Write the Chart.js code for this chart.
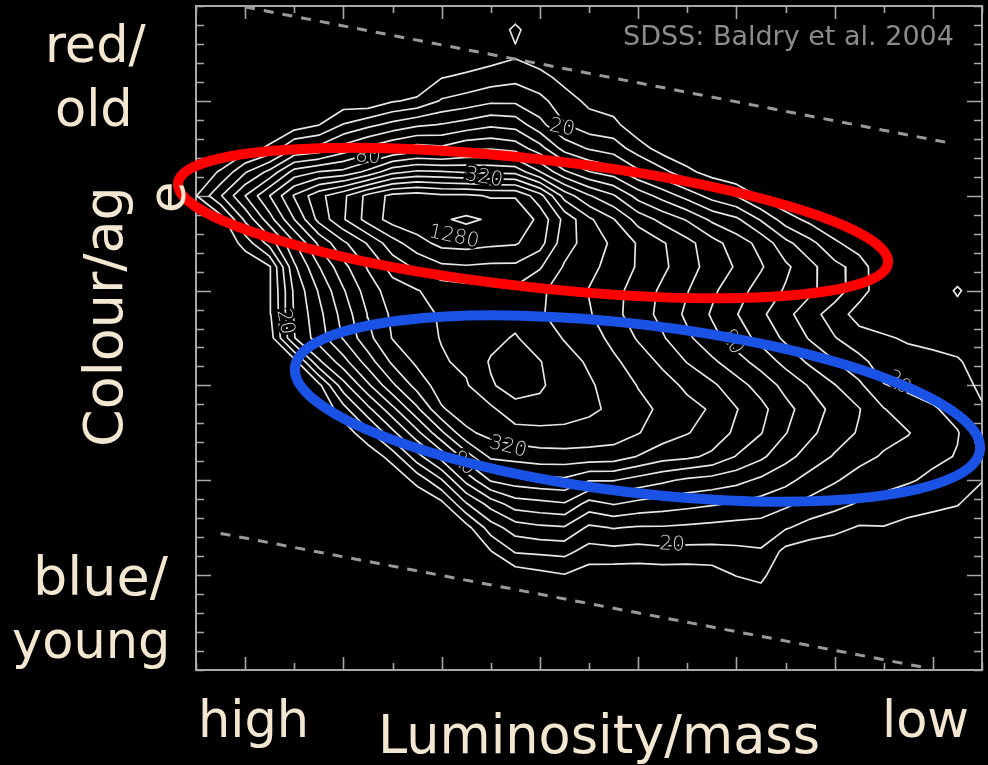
<!DOCTYPE html>
<html>
<head>
<meta charset="utf-8">
<script src="https://cdn.jsdelivr.net/npm/chart.js@4.4.1/dist/chart.umd.min.js"></script>
<style>
  html, body { margin: 0; padding: 0; background: #000; }
  canvas { display: block; }
</style>
</head>
<body>
<canvas id="cmd" width="988" height="765"></canvas>
<script>
// Luminosity bins (x) and colour bins (y) of the galaxy density grid.
const magBins = [0, 0.5, 1, 1.5, 2, 2.5, 3, 3.5, 4, 4.5, 5, 5.5, 6, 6.5, 7, 7.5, 8,
                 8.5, 9, 9.5, 10, 10.5, 11, 11.5, 12, 12.5, 13, 13.5, 14, 14.5, 15, 15.5, 16];
const colourBins = [7, 6.75, 6.5, 6.25, 6, 5.75, 5.5, 5.25, 5, 4.75, 4.5, 4.25, 4, 3.75,
                    3.5, 3.25, 3, 2.75, 2.5, 2.25, 2, 1.75, 1.5, 1.25, 1, 0.75, 0.5];

// Galaxy density per bin, in contour steps (step k = 20 * sqrt(2)^k galaxies).
// One array per luminosity bin, listed from the reddest colour bin downwards.
const densitySteps = [
  [-2,-2,-2,-2,-2,-2,-2,-1.6,-1.05,-1.8,-2,-2,-2,-2,-2,-2,-2,-2,-2,-2,-2,-2,-2,-2,-2,-2,-2],
  [-2,-2,-2,-2,-2,-2,-2,-0.9,0.9,-1.5,-2,-2,-2,-2,-2,-2,-2,-2,-2,-2,-2,-2,-2,-2,-2,-2,-2],
  [-2,-2,-2,-2,-2,-2,-1.5,0.9,3.0,1.2,-0.6,-1.8,-2,-2,-2,-2,-2,-2,-2,-2,-2,-2,-2,-2,-2,-2,-2],
  [-2,-2,-2,-2,-2,-1.9,-0.8,2.3,5.0,3.6,1.4,-1.1,-1.1,-1.15,-1.5,-2,-2,-2,-2,-2,-2,-2,-2,-2,-2,-2,-2],
  [-2,-2,-2,-2,-2,-1.6,1.0,4.4,7.1,6.0,3.9,2.8,2.2,2.1,1.95,-1.4,-2,-2,-2,-2,-2,-2,-2,-2,-2,-2,-2],
  [-2,-2,-2,-2,-2,-1.05,1.3,5.05,8.7,8.3,6.2,4.95,4.1,3.7,3.5,1.8,-1.3,-2,-2,-2,-2,-2,-2,-2,-2,-2,-2],
  [-2,-2,-2,-2,-1.6,0.05,2.4,5.3,9.8,9.9,7.8,6.7,5.9,5.4,5.1,3.6,1.6,-0.4,-1.6,-2,-2,-2,-2,-2,-2,-2,-2],
  [-2,-2,-2,-2,-1.8,0.7,3.2,6.3,11.3,11.4,9.1,8.1,7.5,7.05,6.7,5.5,3.8,1.7,-0.3,-1.7,-2,-2,-2,-2,-2,-2,-2],
  [-2,-2,-2,-2,-1.1,1.3,3.9,7.7,12.3,12.4,10.6,9.4,8.5,8.2,8.05,7.2,5.8,3.7,1.7,-0.6,-1.8,-2,-2,-2,-2,-2,-2],
  [-2,-2,-2,-2,-0.8,1.8,4.4,8.2,12.5,12.7,11.6,10.2,8.95,8.7,8.6,8.2,7.4,5.8,3.7,1.6,-0.7,-1.9,-2,-2,-2,-2,-2],
  [-2,-2,-2,-1.05,0.1,2.05,4.2,8.1,12.2,12.9,12.3,10.8,9.4,9.1,9.05,8.9,8.5,7.9,5.8,3.4,0.9,-1.3,-2,-2,-2,-2,-2],
  [-2,-2,-1.8,-0.8,0.4,2.4,4.8,7.9,12.2,13.15,12.4,10.9,9.6,9.4,9.35,9.2,8.9,8.5,7.8,5.5,3.3,0.9,-1.4,-2,-2,-2,-2],
  [-2,-2,-1.5,-0.55,0.8,2.8,4.9,7.8,11.9,12.9,12.2,10.8,9.7,9.55,9.7,10.1,9.9,8.8,8.3,7.2,5.1,2.4,0.5,-1.05,-2,-2,-2],
  [-2,-0.7,-1.2,-0.3,0.8,2.6,4.6,7.7,11.9,12.9,12.1,10.8,9.8,9.6,10.1,10.5,10.4,9.7,8.6,7.4,5.5,3.5,1.5,0.1,-1.6,-2,-2],
  [-2,-2,-1.6,-0.7,0.3,1.3,3.4,6.05,10.4,11.7,11.4,10.1,9.2,9.1,9.4,10.05,10.15,9.7,8.7,7.6,5.7,3.7,1.8,0.2,-1.3,-2,-2],
  [-2,-2,-2,-1.3,-0.6,0.05,1.6,4.2,7.6,9.7,9.4,8.9,8.5,8.6,8.95,9.3,9.5,9.35,8.8,7.6,5.8,3.9,1.9,0.3,-1.05,-2,-2],
  [-2,-2,-2,-2,-1.2,-0.6,0.9,3.05,6.1,8.2,8.6,8.3,7.95,8.1,8.5,8.9,9.1,9.2,8.6,7.6,5.05,2.6,0.8,-0.4,-1.5,-2,-2],
  [-2,-2,-2,-2,-1.6,-0.7,0.5,2.5,5.1,7.05,7.8,7.6,7.3,7.3,7.7,8.2,8.7,8.8,8.5,7.5,5.05,3.05,1.05,-0.3,-1.6,-2,-2],
  [-2,-2,-2,-2,-2,-1.8,-0.5,1.2,3.6,5.6,6.9,6.9,6.6,6.5,6.9,7.5,7.95,8.3,8.05,6.95,4.6,2.7,0.9,-0.4,-1.6,-2,-2],
  [-2,-2,-2,-2,-2,-2,-1.5,0.3,2.6,4.7,6.1,6.2,5.8,5.7,6.1,6.8,7.4,7.8,7.5,6.4,4.2,2.5,0.9,-0.25,-1.6,-2,-2],
  [-2,-2,-2,-2,-2,-2,-2,-0.7,1.6,3.9,5.3,5.4,5.05,4.8,5.2,5.95,6.8,7.3,7.05,6.2,3.8,2.3,0.8,-0.3,-1.6,-2,-2],
  [-2,-2,-2,-2,-2,-2,-2,-1.5,0.6,2.8,4.4,4.6,4.2,3.9,4.3,5.2,6.2,6.9,6.6,5.8,3.6,2.1,0.7,-0.3,-1.5,-2,-2],
  [-2,-2,-2,-2,-2,-2,-2,-2,-0.05,2.2,3.5,3.9,3.4,3.05,3.5,4.4,5.4,6.05,5.8,4.95,3.3,1.9,0.6,-0.2,-0.95,-2,-2],
  [-2,-2,-2,-2,-2,-2,-2,-2,-1.2,0.9,2.7,3.1,2.6,2.2,2.7,3.6,4.6,5.3,5.05,4.2,2.8,1.6,0.6,-0.1,-0.7,-1.6,-2],
  [-2,-2,-2,-2,-2,-2,-2,-2,-2,-0.5,1.3,2.2,1.9,1.3,1.8,2.7,3.7,4.3,4.05,3.3,2.3,1.2,0.1,-1.3,-2,-2,-2],
  [-2,-2,-2,-2,-2,-2,-2,-2,-2,-1.3,0.3,1.3,1.2,0.4,0.9,1.8,2.9,3.5,3.2,2.6,1.6,0.7,-0.4,-1.6,-2,-2,-2],
  [-2,-2,-2,-2,-2,-2,-2,-2,-2,-2,-0.8,0.3,0.5,-0.5,0.05,1.05,2.05,2.7,2.5,1.9,1.1,0.3,-0.7,-1.7,-2,-2,-2],
  [-2,-2,-2,-2,-2,-2,-2,-2,-2,-2,-1.6,-0.4,-0.6,-1.4,-0.6,0.3,1.2,2.05,1.9,1.3,0.6,-0.1,-1.1,-2,-2,-2,-2],
  [-2,-2,-2,-2,-2,-2,-2,-2,-2,-2,-2,-2,-1.6,-1.5,-0.9,-0.5,0.05,1.05,1.3,0.9,0.3,-0.3,-1.05,-2,-2,-2,-2],
  [-2,-2,-2,-2,-2,-2,-2,-2,-2,-2,-2,-2,-2,-2,-1.1,-0.7,-0.2,0.4,1.05,0.6,0.1,-0.6,-1.3,-2,-2,-2,-2],
  [-2,-2,-2,-2,-2,-2,-2,-2,-2,-2,-2,-2,-2,-2,-1.2,-0.8,-0.4,0.1,0.4,0.2,-0.2,-0.8,-1.4,-2,-2,-2,-2],
  [-2,-2,-2,-2,-2,-2,-2,-2,-2,-2,-2,-2,-0.8,-1.6,-1.4,-0.9,-0.6,-0.3,0.05,-0.05,-0.5,-0.95,-1.6,-2,-2,-2,-2],
  [-2,-2,-2,-2,-2,-2,-2,-2,-2,-2,-2,-2,-2,-2,-2,-1.4,-1.2,-0.9,-0.7,-0.7,-0.95,-1.5,-2,-2,-2,-2,-2]
];

// Contour steps that are drawn, and the ones that carry a count label.
const contourSteps = [-1, 0, 1, 2, 3, 4, 5, 6, 7, 8, 9, 10, 11, 12, 13];
const labelledSteps = [0, 4, 8, 12];

// Colour cuts bounding the red and blue sequences.
const redCut = [{ x: 1.0, y: 6.99 }, { x: 15.4, y: 5.55 }];
const blueCut = [{ x: 0.5, y: 1.44 }, { x: 14.9, y: 0.02 }];

// Tick positions along both axes.
const lumTicks = [0, 1, 2, 3, 4, 5, 6, 7, 8, 9, 10, 11, 12, 13, 14, 15, 16];
const lumMajorTicks = [1, 3, 5, 7, 9, 11, 13, 15];
const colourTicks = [0, 0.2, 0.4, 0.6, 0.8, 1, 1.2, 1.4, 1.6, 1.8, 2, 2.2, 2.4, 2.6, 2.8, 3,
  3.2, 3.4, 3.6, 3.8, 4, 4.2, 4.4, 4.6, 4.8, 5, 5.2, 5.4, 5.6, 5.8, 6, 6.2, 6.4, 6.6, 6.8, 7];
const colourMajorTicks = [1, 2, 3, 4, 5, 6];

// ---- annotation layout ----
const labelPlacement = [
  { step: 0, x: 7.45, y: 5.714, angle: 12 },
  { step: 4, x: 3.50, y: 5.41, angle: 6 },
  { step: 8, x: 5.86, y: 5.19, angle: 10 },
  { step: 12, x: 5.25, y: 4.565, angle: 12 },
  { step: 0, x: 1.81, y: 3.67, angle: 78 },
  { step: 4, x: 10.91, y: 3.46, angle: 62 },
  { step: 0, x: 14.29, y: 3.03, angle: 40 },
  { step: 8, x: 6.35, y: 2.35, angle: 14 },
  { step: 4, x: 5.44, y: 2.18, angle: 45 },
  { step: 0, x: 9.69, y: 1.32, angle: 3 }
];
const highlights = [
  { from: { x: -0.366, y: 5.134 }, to: { x: 14.087, y: 4.291 }, halfWidth: 0.675, color: '#ff0000', width: 10 },
  { from: { x: 2.015, y: 3.194 }, to: { x: 15.959, y: 2.319 }, halfWidth: 0.886, color: '#1b52e6', width: 10 }
];

const stepCount = s => Math.round(20 * Math.pow(2, s / 2));

// Marching squares over the density grid; returns polylines in data units.
function traceContours(level) {
  const nx = magBins.length, ny = colourBins.length;
  const v = (i, j) => densitySteps[i][j];
  const pts = {};
  const segs = [];
  function edge(id, i0, j0, i1, j1) {
    if (!pts[id]) {
      const a = v(i0, j0), b = v(i1, j1);
      const t = (level - a) / (b - a);
      pts[id] = {
        x: magBins[i0] + t * (magBins[i1] - magBins[i0]),
        y: colourBins[j0] + t * (colourBins[j1] - colourBins[j0])
      };
    }
    return id;
  }
  for (let i = 0; i < nx - 1; i++) {
    for (let j = 0; j < ny - 1; j++) {
      const c = [v(i, j), v(i + 1, j), v(i + 1, j + 1), v(i, j + 1)];
      const up = c.map(z => z > level);
      const E = [
        () => edge('h' + i + '_' + j, i, j, i + 1, j),
        () => edge('v' + (i + 1) + '_' + j, i + 1, j, i + 1, j + 1),
        () => edge('h' + i + '_' + (j + 1), i, j + 1, i + 1, j + 1),
        () => edge('v' + i + '_' + j, i, j, i, j + 1)
      ];
      const crossed = [up[0] !== up[1], up[1] !== up[2], up[3] !== up[2], up[0] !== up[3]];
      const idx = [0, 1, 2, 3].filter(k => crossed[k]);
      if (idx.length === 2) {
        segs.push([E[idx[0]](), E[idx[1]]()]);
      } else if (idx.length === 4) {
        const centreUp = (c[0] + c[1] + c[2] + c[3]) / 4 > level;
        if (up[0] === centreUp) {
          segs.push([E[0](), E[1]()]);
          segs.push([E[2](), E[3]()]);
        } else {
          segs.push([E[3](), E[0]()]);
          segs.push([E[1](), E[2]()]);
        }
      }
    }
  }
  const adj = {};
  segs.forEach((s, k) => s.forEach(e => (adj[e] = adj[e] || []).push(k)));
  const used = new Array(segs.length).fill(false);
  const lines = [];
  const extend = chain => {
    for (;;) {
      const end = chain[chain.length - 1];
      const next = (adj[end] || []).find(m => !used[m]);
      if (next === undefined) break;
      used[next] = true;
      const s = segs[next];
      chain.push(s[0] === end ? s[1] : s[0]);
    }
  };
  for (let k = 0; k < segs.length; k++) {
    if (used[k]) continue;
    used[k] = true;
    const chain = [segs[k][0], segs[k][1]];
    extend(chain);
    chain.reverse();
    extend(chain);
    lines.push(chain.map(id => pts[id]));
  }
  return lines;
}

const contourDatasets = contourSteps.map(step => {
  const data = [];
  traceContours(step).forEach(line => {
    line.forEach(p => data.push({ x: p.x, y: p.y }));
    data.push({ x: null, y: null });
  });
  return {
    data,
    showLine: true,
    borderColor: '#e6e6e6',
    borderWidth: 1.7,
    borderCapStyle: 'round',
    borderJoinStyle: 'round',
    pointRadius: 0,
    spanGaps: false,
    tension: 0
  };
});

const cutDatasets = [redCut, blueCut].map(line => ({
  data: line,
  showLine: true,
  borderColor: '#9a9a9a',
  borderWidth: 3,
  borderDash: [10, 9],
  pointRadius: 0
}));

const TEXT = '#f3e7d1';

const backdrop = {
  id: 'backdrop',
  beforeDraw(chart) {
    const ctx = chart.ctx;
    ctx.save();
    ctx.fillStyle = '#000';
    ctx.fillRect(0, 0, chart.width, chart.height);
    ctx.restore();
  }
};

const frame = {
  id: 'frame',
  beforeDatasetsDraw(chart) {
    const ctx = chart.ctx, xa = chart.scales.x, ya = chart.scales.y;
    const { left, right, top, bottom } = chart.chartArea;
    ctx.save();
    ctx.strokeStyle = '#a8a8a8';
    ctx.lineWidth = 2;
    ctx.strokeRect(left, top, right - left, bottom - top);
    ctx.lineWidth = 1.6;
    ctx.beginPath();
    lumTicks.forEach(t => {
      const px = Math.round(xa.getPixelForValue(t)) + 0.5;
      const len = lumMajorTicks.includes(t) ? 13 : 7;
      ctx.moveTo(px, bottom); ctx.lineTo(px, bottom - len);
      ctx.moveTo(px, top); ctx.lineTo(px, top + len);
    });
    colourTicks.forEach(t => {
      const py = Math.round(ya.getPixelForValue(t)) + 0.5;
      const len = colourMajorTicks.includes(t) ? 15 : 8;
      ctx.moveTo(left, py); ctx.lineTo(left + len, py);
      ctx.moveTo(right, py); ctx.lineTo(right - len, py);
    });
    ctx.stroke();
    ctx.restore();
  }
};

const annotations = {
  id: 'annotations',
  afterDatasetsDraw(chart) {
    const ctx = chart.ctx, xa = chart.scales.x, ya = chart.scales.y;
    ctx.save();
    // count labels on the contours
    ctx.font = '200 20px "DejaVu Sans"';
    ctx.textAlign = 'center';
    ctx.textBaseline = 'middle';
    labelPlacement.forEach(l => {
      if (!labelledSteps.includes(l.step)) return;
      const txt = String(stepCount(l.step));
      ctx.save();
      ctx.translate(xa.getPixelForValue(l.x), ya.getPixelForValue(l.y));
      ctx.rotate(l.angle * Math.PI / 180);
      ctx.lineWidth = 5;
      ctx.strokeStyle = '#000';
      ctx.strokeText(txt, 0, 0);
      ctx.fillStyle = '#d6d6d6';
      ctx.fillText(txt, 0, 0);
      ctx.restore();
    });
    // red and blue sequence highlights
    highlights.forEach(h => {
      const x1 = xa.getPixelForValue(h.from.x), y1 = ya.getPixelForValue(h.from.y);
      const x2 = xa.getPixelForValue(h.to.x), y2 = ya.getPixelForValue(h.to.y);
      const rx = Math.hypot(x2 - x1, y2 - y1) / 2;
      const ry = Math.abs(ya.getPixelForValue(0) - ya.getPixelForValue(h.halfWidth));
      ctx.beginPath();
      ctx.ellipse((x1 + x2) / 2, (y1 + y2) / 2, rx, ry, Math.atan2(y2 - y1, x2 - x1), 0, Math.PI * 2);
      ctx.lineWidth = h.width;
      ctx.strokeStyle = h.color;
      ctx.stroke();
    });
    ctx.restore();
  },
  afterDraw(chart) {
    const ctx = chart.ctx;
    ctx.save();
    ctx.fillStyle = '#8c8c8c';
    ctx.font = '27px "DejaVu Sans"';
    ctx.textBaseline = 'alphabetic';
    ctx.fillText('SDSS: Baldry et al. 2004', 623, 45);

    ctx.fillStyle = TEXT;
    ctx.font = '51px "DejaVu Sans"';
    ctx.fillText('red/', 45, 62);
    ctx.fillText('old', 55, 126);
    ctx.fillText('young', 12, 658);
    ctx.fillText('high', 198, 737);
    ctx.fillText('low', 882, 737);
    ctx.font = '54px "DejaVu Sans"';
    ctx.fillText('blue/', 33, 595);
    ctx.save();
    ctx.translate(122, 447);
    ctx.rotate(-Math.PI / 2);
    ctx.fillText('Colour/ag', 0, 0);
    ctx.restore();
    ctx.font = '52.5px "DejaVu Sans"';
    ctx.fillText('Luminosity/mass', 378, 753);

    ctx.save();
    ctx.translate(185, 213);
    ctx.rotate(-Math.PI / 2);
    ctx.font = '51px "DejaVu Sans"';
    ctx.fillText('e', 0, 0);
    ctx.restore();
    ctx.restore();
  }
};

new Chart(document.getElementById('cmd'), {
  type: 'scatter',
  data: { datasets: [...cutDatasets, ...contourDatasets] },
  options: {
    responsive: false,
    devicePixelRatio: 1,
    animation: false,
    events: [],
    layout: { padding: { left: 196, right: 6, top: 6, bottom: 95 } },
    plugins: { legend: { display: false }, tooltip: { enabled: false } },
    scales: {
      x: { type: 'linear', min: 0, max: 16, display: false },
      y: { type: 'linear', min: 0, max: 7, display: false }
    }
  },
  plugins: [backdrop, frame, annotations]
});
</script>
</body>
</html>
